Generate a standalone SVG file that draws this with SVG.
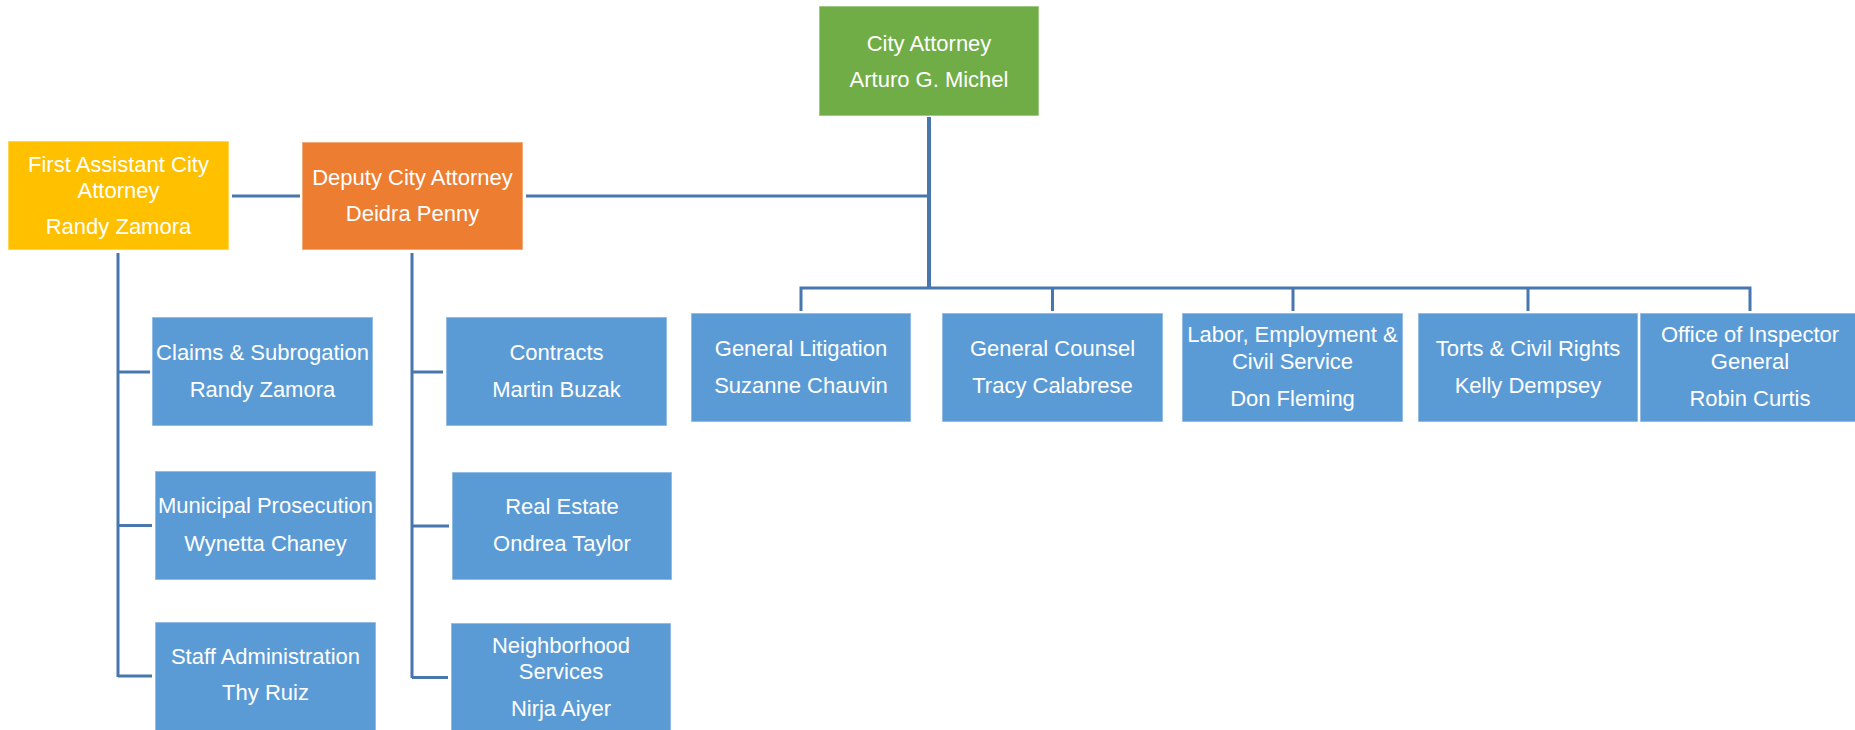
<svg xmlns="http://www.w3.org/2000/svg" width="1855" height="730" viewBox="0 0 1855 730">
<style>
.box{stroke:#ffffff;stroke-opacity:0.45;stroke-width:1.5}
.blue{fill:#5B9BD5}
.green{fill:#70AD47}
.orange{fill:#ED7D31}
.yellow{fill:#FFC000}
text{font-family:"Liberation Sans",Arial,sans-serif;font-size:22px;fill:#ffffff;text-anchor:middle}
.conn{stroke:#4777AD;stroke-width:3;fill:none}
.thick{stroke-width:4}
</style>
<rect width="1855" height="730" fill="#ffffff"/>
<g id="connectors">
<line class="conn thick" x1="929" y1="117" x2="929" y2="289"/>
<line class="conn" x1="526" y1="196" x2="929" y2="196"/>
<line class="conn" x1="232" y1="196" x2="300" y2="196"/>
<polyline class="conn" points="801,311 801,288 1750,288 1750,311"/>
<line class="conn" x1="1052.5" y1="288" x2="1052.5" y2="311"/>
<line class="conn" x1="1293" y1="288" x2="1293" y2="311"/>
<line class="conn" x1="1528" y1="288" x2="1528" y2="311"/>
<line class="conn" x1="118" y1="253" x2="118" y2="677"/>
<line class="conn" x1="118" y1="372" x2="150" y2="372"/>
<line class="conn" x1="118" y1="525.5" x2="152" y2="525.5"/>
<line class="conn" x1="118" y1="676" x2="152" y2="676"/>
<line class="conn" x1="412" y1="253" x2="412" y2="678"/>
<line class="conn" x1="412" y1="372" x2="443" y2="372"/>
<line class="conn" x1="412" y1="526" x2="449" y2="526"/>
<line class="conn" x1="412" y1="677.5" x2="448" y2="677.5"/>
</g>
<g id="city-attorney">
<rect class="box green" x="819" y="6" width="220" height="110"/>
<text x="929" y="51">City Attorney</text>
<text x="929" y="87">Arturo G. Michel</text>
</g>
<g id="first-assistant">
<rect class="box yellow" x="8" y="141" width="221" height="109"/>
<text x="118.5" y="172">First Assistant City</text>
<text x="118.5" y="198">Attorney</text>
<text x="118.5" y="234">Randy Zamora</text>
</g>
<g id="deputy">
<rect class="box orange" x="302" y="142" width="221" height="108"/>
<text x="412.5" y="185">Deputy City Attorney</text>
<text x="412.5" y="221">Deidra Penny</text>
</g>
<g id="general-litigation">
<rect class="box blue" x="691" y="313" width="220" height="109"/>
<text x="801" y="356">General Litigation</text>
<text x="801" y="393">Suzanne Chauvin</text>
</g>
<g id="general-counsel">
<rect class="box blue" x="942" y="313" width="221" height="109"/>
<text x="1052.5" y="356">General Counsel</text>
<text x="1052.5" y="393">Tracy Calabrese</text>
</g>
<g id="labor">
<rect class="box blue" x="1182" y="313" width="221" height="109"/>
<text x="1292.5" y="342">Labor, Employment &amp;</text>
<text x="1292.5" y="369">Civil Service</text>
<text x="1292.5" y="406">Don Fleming</text>
</g>
<g id="torts">
<rect class="box blue" x="1418" y="313" width="220" height="109"/>
<text x="1528" y="356">Torts &amp; Civil Rights</text>
<text x="1528" y="393">Kelly Dempsey</text>
</g>
<g id="inspector-general">
<rect class="box blue" x="1640" y="313" width="220" height="109"/>
<text x="1750" y="342">Office of Inspector</text>
<text x="1750" y="369">General</text>
<text x="1750" y="406">Robin Curtis</text>
</g>
<g id="claims">
<rect class="box blue" x="152" y="317" width="221" height="109"/>
<text x="262.5" y="360">Claims &amp; Subrogation</text>
<text x="262.5" y="397">Randy Zamora</text>
</g>
<g id="municipal-prosecution">
<rect class="box blue" x="155" y="471" width="221" height="109"/>
<text x="265.5" y="513">Municipal Prosecution</text>
<text x="265.5" y="551">Wynetta Chaney</text>
</g>
<g id="staff-administration">
<rect class="box blue" x="155" y="622" width="221" height="110"/>
<text x="265.5" y="664">Staff Administration</text>
<text x="265.5" y="700">Thy Ruiz</text>
</g>
<g id="contracts">
<rect class="box blue" x="446" y="317" width="221" height="109"/>
<text x="556.5" y="360">Contracts</text>
<text x="556.5" y="397">Martin Buzak</text>
</g>
<g id="real-estate">
<rect class="box blue" x="452" y="472" width="220" height="108"/>
<text x="562" y="514">Real Estate</text>
<text x="562" y="551">Ondrea Taylor</text>
</g>
<g id="neighborhood-services">
<rect class="box blue" x="451" y="623" width="220" height="110"/>
<text x="561" y="653">Neighborhood</text>
<text x="561" y="679">Services</text>
<text x="561" y="716">Nirja Aiyer</text>
</g>
</svg>
